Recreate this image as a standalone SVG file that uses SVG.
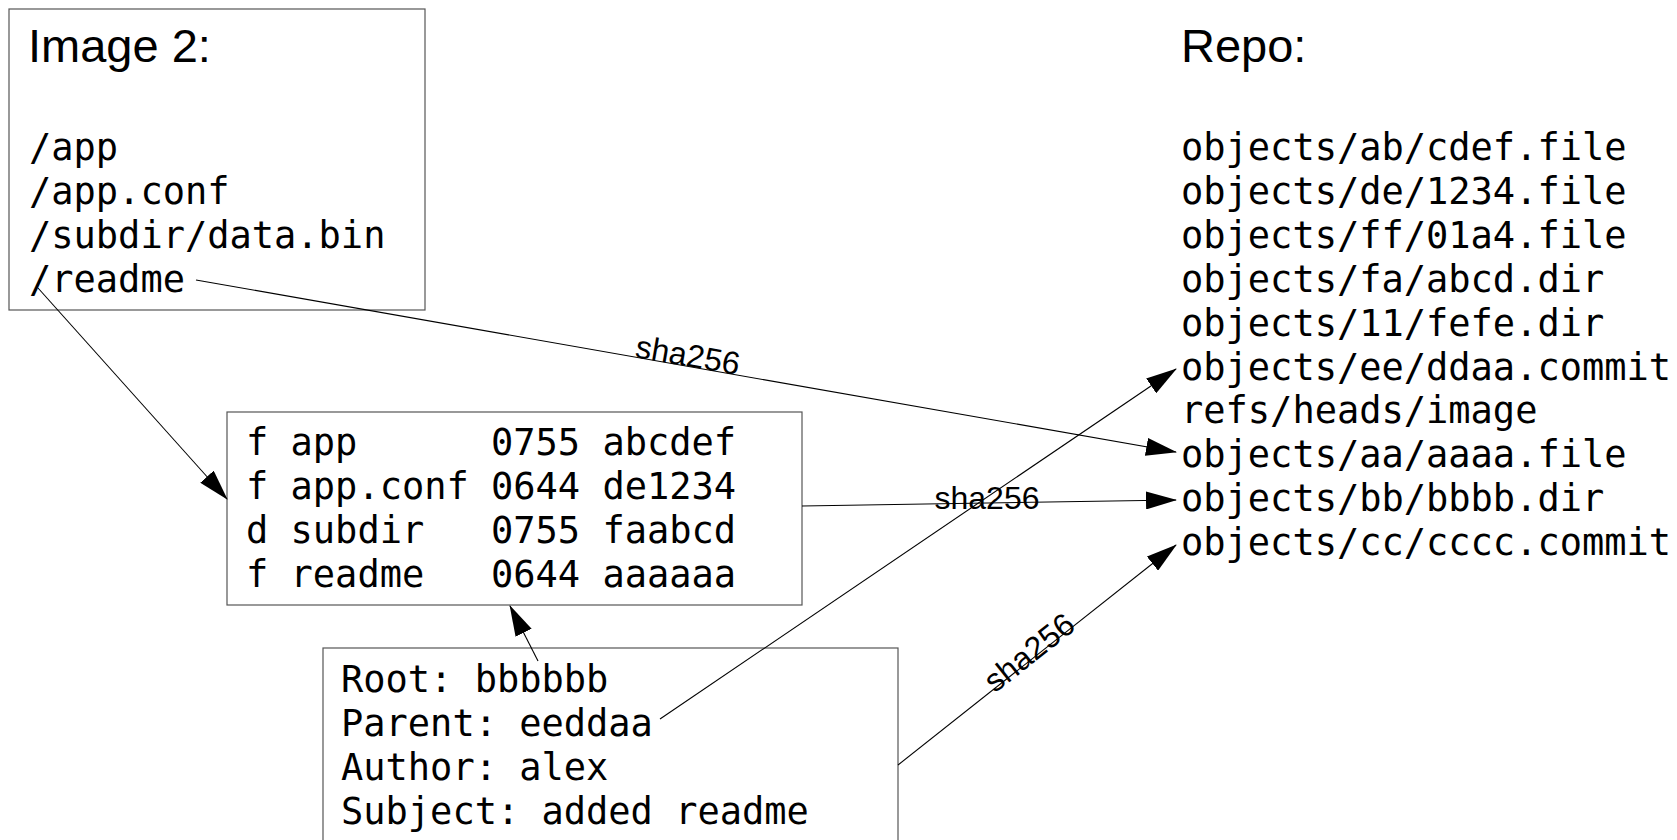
<svg xmlns="http://www.w3.org/2000/svg" width="1677" height="840" viewBox="0 0 1677 840">
<style>
.box{fill:#fff;stroke:#555;stroke-width:1.2}
.mono{font-family:"DejaVu Sans Mono",monospace;font-size:37px;fill:#000}
.title{font-family:"Liberation Sans",Arial,sans-serif;font-size:47px;fill:#000}
.lbl{font-family:"Liberation Sans",Arial,sans-serif;font-size:32px;fill:#000}
.edge{stroke:#000;stroke-width:1.1;fill:none;marker-end:url(#arr)}
</style>
<defs>
<marker id="arr" markerUnits="userSpaceOnUse" markerWidth="31" markerHeight="18" refX="30" refY="9" orient="auto">
<path d="M0,0 L31,9 L0,18 z" fill="#000"/>
</marker>
</defs>
<rect width="1677" height="840" fill="#fff"/>
<g id="image2">
<rect class="box" x="9" y="9" width="416" height="301"/>
<text class="title" x="28" y="62">Image 2:</text>
<text class="mono" x="29" y="160">/app</text>
<text class="mono" x="29" y="204">/app.conf</text>
<text class="mono" x="29" y="248">/subdir/data.bin</text>
<text class="mono" x="29" y="292">/readme</text>
</g>
<g id="tree">
<rect class="box" x="227" y="412" width="575" height="193"/>
<text class="mono" x="246" y="455" xml:space="preserve">f app      0755 abcdef</text>
<text class="mono" x="246" y="499" xml:space="preserve">f app.conf 0644 de1234</text>
<text class="mono" x="246" y="543" xml:space="preserve">d subdir   0755 faabcd</text>
<text class="mono" x="246" y="587" xml:space="preserve">f readme   0644 aaaaaa</text>
</g>
<g id="commit">
<rect class="box" x="323" y="648" width="575" height="200"/>
<text class="mono" x="341" y="692">Root: bbbbbb</text>
<text class="mono" x="341" y="736">Parent: eeddaa</text>
<text class="mono" x="341" y="780">Author: alex</text>
<text class="mono" x="341" y="824">Subject: added readme</text>
</g>
<g id="repo">
<text class="title" x="1181" y="62">Repo:</text>
<text class="mono" x="1181" y="160">objects/ab/cdef.file</text>
<text class="mono" x="1181" y="204">objects/de/1234.file</text>
<text class="mono" x="1181" y="248">objects/ff/01a4.file</text>
<text class="mono" x="1181" y="292">objects/fa/abcd.dir</text>
<text class="mono" x="1181" y="336">objects/11/fefe.dir</text>
<text class="mono" x="1181" y="380">objects/ee/ddaa.commit</text>
<text class="mono" x="1181" y="423">refs/heads/image</text>
<text class="mono" x="1181" y="467">objects/aa/aaaa.file</text>
<text class="mono" x="1181" y="511">objects/bb/bbbb.dir</text>
<text class="mono" x="1181" y="555">objects/cc/cccc.commit</text>
</g>
<g id="connectors">
<line class="edge" x1="38" y1="288" x2="227" y2="499"/>
<line class="edge" x1="196" y1="280" x2="1176" y2="452"/>
<line class="edge" x1="802" y1="506" x2="1176" y2="500"/>
<line class="edge" x1="660" y1="719" x2="1176" y2="369"/>
<line class="edge" x1="898" y1="765" x2="1176" y2="545"/>
<line class="edge" x1="538" y1="661" x2="510" y2="606"/>
<text class="lbl" x="0" y="0" text-anchor="middle" transform="translate(686,366) rotate(9.9)">sha256</text>
<text class="lbl" x="987" y="509" text-anchor="middle">sha256</text>
<text class="lbl" x="0" y="0" text-anchor="middle" transform="translate(1036,661) rotate(-38.4)">sha256</text>
</g>
</svg>
